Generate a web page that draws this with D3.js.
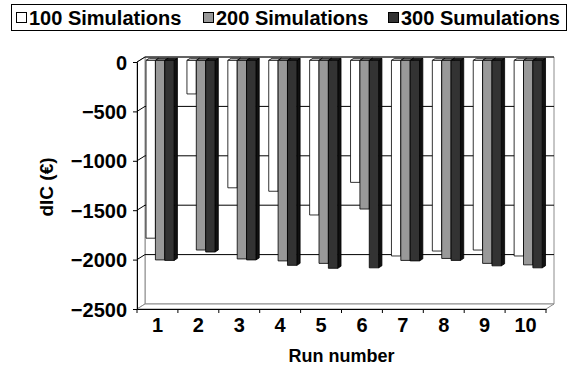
<!DOCTYPE html>
<html>
<head>
<meta charset="utf-8">
<script src="https://cdn.jsdelivr.net/npm/d3@7/dist/d3.min.js"></script>
<style>
  html, body { margin: 0; padding: 0; background: #fff; }
  svg text { font-family: "Liberation Sans", Arial, sans-serif; font-weight: bold; fill: #000; }
</style>
</head>
<body>
<svg id="chart" width="576" height="372"></svg>
<script>
// Run numbers and the change in incremental cost for each simulation count
const runs = ["1", "2", "3", "4", "5", "6", "7", "8", "9", "10"];
const seriesNames = ["100 Simulations", "200 Simulations", "300 Sumulations"];
const sim100 = [-1800, -340, -1290, -1325, -1565, -1235, -1980, -1930, -1920, -1980];
const sim200 = [-2020, -1920, -2010, -2030, -2055, -1505, -2025, -2005, -2055, -2070];
const sim300 = [-2025, -1940, -2020, -2075, -2105, -2100, -2030, -2025, -2080, -2100];
const yTicks = [0, -500, -1000, -1500, -2000, -2500];

const seriesValues = [sim100, sim200, sim300];
const fills = ["#ffffff", "#999999", "#333333"];
const sideFills = ["#bfbfbf", "#6e6e6e", "#111111"];
const topFills = ["#e6e6e6", "#808080", "#222222"];

const svg = d3.select("#chart");

// Plot geometry (front plane) and oblique depth offset
const plotL = 137, plotR = 546, plotT = 62, plotB = 309;
const DX = 8, DY = -5;
const fFront = 0.33, fBack = 0.74;   // bar front/back depth fractions

const x = d3.scaleBand().domain(runs).range([plotL, plotR]).padding(0);
const inner = d3.scaleBand().domain(d3.range(3))
  .range([6.4, x.bandwidth() - 6.4]).padding(0);
const y = d3.scaleLinear().domain([-2500, 0]).range([plotB, plotT]);

const P = (px, py, t) => [px + DX * t, py + DY * t];
const poly = pts => pts.map(p => p.join(",")).join(" ");

// Walls and floor
const wall = svg.append("g");
wall.append("polygon")
  .attr("points", poly([P(plotL, plotT, 1), P(plotR, plotT, 1), P(plotR, plotB, 1), P(plotL, plotB, 1)]))
  .attr("fill", "#fff").attr("stroke", "#8c8c8c").attr("stroke-width", 1);
wall.append("polygon")
  .attr("points", poly([[plotL, plotT], P(plotL, plotT, 1), P(plotL, plotB, 1), [plotL, plotB]]))
  .attr("fill", "#fff").attr("stroke", "#8c8c8c").attr("stroke-width", 1);
wall.append("polygon")
  .attr("points", poly([[plotL, plotB], [plotR, plotB], P(plotR, plotB, 1), P(plotL, plotB, 1)]))
  .attr("fill", "#fff").attr("stroke", "#8c8c8c").attr("stroke-width", 1);

// Gridlines across side wall and back wall
yTicks.filter(v => v > -2500).forEach(v => {
  const yy = y(v);
  wall.append("polyline")
    .attr("points", poly([[plotL, yy], P(plotL, yy, 1), P(plotR, yy, 1)]))
    .attr("fill", "none").attr("stroke", "#000").attr("stroke-width", 1);
});

// Bars, drawn left to right so each right face is covered by its neighbour
const bars = svg.append("g").attr("stroke", "#000").attr("stroke-width", 0.8).attr("stroke-linejoin", "round");
runs.forEach((r, i) => {
  seriesValues.forEach((vals, j) => {
    const x0 = x(r) + inner(j), x1 = x0 + inner.bandwidth();
    const y0 = y(0), y1 = y(vals[i]);
    const g = bars.append("g");
    g.append("polygon")
      .attr("points", poly([P(x1, y0, fFront), P(x1, y0, fBack), P(x1, y1, fBack), P(x1, y1, fFront)]))
      .attr("fill", sideFills[j]);
    g.append("polygon")
      .attr("points", poly([P(x0, y0, fFront), P(x1, y0, fFront), P(x1, y0, fBack), P(x0, y0, fBack)]))
      .attr("fill", topFills[j]);
    g.append("polygon")
      .attr("points", poly([P(x0, y0, fFront), P(x1, y0, fFront), P(x1, y1, fFront), P(x0, y1, fFront)]))
      .attr("fill", fills[j]);
  });
});

// Axes
const yAxis = d3.axisLeft(y).tickValues(yTicks).tickSize(4).tickPadding(6).tickFormat(d3.format("d"));
const gy = svg.append("g").attr("transform", `translate(${plotL},0)`).call(yAxis);
gy.select(".domain").attr("stroke", "#000");
gy.selectAll(".tick line").attr("stroke", "#000");
gy.selectAll("text").style("font-size", "20px").attr("dy", "0.35em");

const xAxis = d3.axisBottom(x).tickSize(0).tickPadding(9);
const gx = svg.append("g").attr("transform", `translate(0,${plotB})`).call(xAxis);
gx.select(".domain").attr("stroke", "#000");
gx.selectAll("text").style("font-size", "20px");
// category boundary ticks
gx.selectAll(".bound").data(runs.concat([null])).enter().append("line")
  .attr("class", "bound")
  .attr("x1", (d, i) => plotL + i * x.bandwidth()).attr("x2", (d, i) => plotL + i * x.bandwidth())
  .attr("y1", 0).attr("y2", 4).attr("stroke", "#000");

// Axis titles
svg.append("text").attr("x", (plotL + plotR) / 2).attr("y", 362)
  .attr("text-anchor", "middle").style("font-size", "18px").text("Run number");
svg.append("text").attr("transform", "translate(53,187) rotate(-90)")
  .attr("text-anchor", "middle").style("font-size", "19px").text("dIC (€)");

// Legend
const lg = svg.append("g");
lg.append("rect").attr("x", 11.5).attr("y", 4.5).attr("width", 555).attr("height", 26)
  .attr("fill", "#fff").attr("stroke", "#000").attr("stroke-width", 1);
const legendX = [16, 203, 388];
seriesNames.forEach((name, j) => {
  lg.append("rect").attr("x", legendX[j] + 0.5).attr("y", 12.5).attr("width", 10).attr("height", 10)
    .attr("fill", fills[j]).attr("stroke", "#000").attr("stroke-width", 1);
  lg.append("text").attr("x", legendX[j] + 13).attr("y", 25)
    .style("font-size", "20px").text(name);
});
</script>
</body>
</html>
